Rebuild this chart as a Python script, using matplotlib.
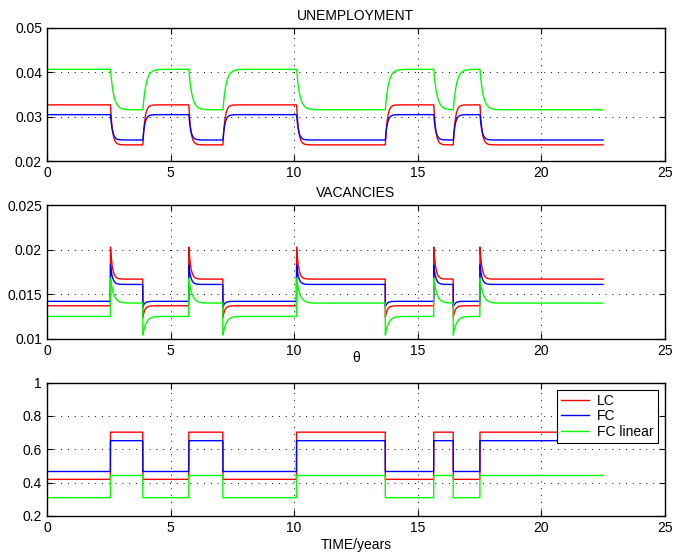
import numpy as np
import matplotlib.pyplot as plt

plt.rcParams['font.family'] = ['Liberation Sans', 'DejaVu Sans']
plt.rcParams['font.size'] = 10

# times (years) where productivity switches; starts in the low state
switch_years = [2.57, 3.88, 5.74, 7.12, 10.1, 13.69, 15.65, 16.44, 17.52]
end_year = 22.5

labels = ['LC', 'FC', 'FC linear']
colors = ['#ff0000', '#0000ff', '#00ff00']

# steady levels in the low (bad) and high (good) productivity state
unemp_bad = [0.0327, 0.0305, 0.0407]
unemp_good = [0.0237, 0.0248, 0.0316]
vac_bad = [0.0137, 0.0142, 0.0125]
vac_good = [0.0167, 0.0161, 0.0140]
vac_peak = [0.0203, 0.0183, 0.0168]    # right after switching to good
vac_trough = [0.0124, 0.0136, 0.0104]  # right after switching to bad
theta_bad = [0.42, 0.467, 0.31]
theta_good = [0.703, 0.652, 0.443]
adjust_years = [0.08, 0.08, 0.13]      # speed of adjustment after a switch

t = np.union1d(np.arange(0, end_year + 1e-9, 0.005), switch_years)
idx = np.searchsorted(switch_years, t, side='right')
good = idx % 2 == 1
t_last = np.where(idx > 0, np.array([0] + switch_years)[idx], -1e9)


def path(bad, good_lvl, start_bad, start_good, tau):
    level = np.where(good, good_lvl, bad)
    start = np.where(good, start_good, start_bad)
    return level + (start - level) * np.exp(-(t - t_last) / tau)


fig, axes = plt.subplots(3, 1, figsize=(6.75, 5.54), dpi=100)
fig.subplots_adjust(left=0.0696, right=0.985, top=0.9495, bottom=0.0686, hspace=0.33)
ax_u, ax_v, ax_th = axes

for i in range(3):
    u = path(unemp_bad[i], unemp_good[i], unemp_good[i], unemp_bad[i], adjust_years[i])
    v = path(vac_bad[i], vac_good[i], vac_trough[i], vac_peak[i], adjust_years[i])
    th = np.where(good, theta_good[i], theta_bad[i])
    ax_u.plot(t, u, color=colors[i], lw=1.0)
    ax_v.plot(t, v, color=colors[i], lw=1.0)
    ax_th.plot(t, th, color=colors[i], lw=1.0, label=labels[i])

ax_u.set_ylim(0.02, 0.05)
ax_u.set_yticks([0.02, 0.03, 0.04, 0.05])
ax_u.set_yticklabels(['0.02', '0.03', '0.04', '0.05'])
ax_u.set_title('UNEMPLOYMENT', fontsize=10, pad=6)

ax_v.set_ylim(0.01, 0.025)
ax_v.set_yticks([0.01, 0.015, 0.02, 0.025])
ax_v.set_yticklabels(['0.01', '0.015', '0.02', '0.025'])
ax_v.set_title('VACANCIES', fontsize=10, pad=6)

ax_th.set_ylim(0.2, 1)
ax_th.set_yticks([0.2, 0.4, 0.6, 0.8, 1])
ax_th.set_yticklabels(['0.2', '0.4', '0.6', '0.8', '1'])
ax_th.set_title('\u03b8', fontsize=10, pad=15)
ax_th.set_xlabel('TIME/years', fontsize=10, labelpad=2)
ax_th.legend(loc='upper right', fancybox=False, framealpha=1, edgecolor='black',
             borderpad=0.3, labelspacing=0.1, handlelength=2.0, handletextpad=0.6,
             borderaxespad=0.5).get_frame().set_linewidth(0.8)

for ax in axes:
    ax.set_xlim(0, 25)
    ax.set_xticks([0, 5, 10, 15, 20, 25])
    ax.grid(True, color='black', linestyle=(0, (1, 6)), linewidth=0.7)
    ax.tick_params(direction='in', length=4, top=True, right=True, width=0.8)
    for s in ax.spines.values():
        s.set_linewidth(1.0)

fig.savefig('out.png')
